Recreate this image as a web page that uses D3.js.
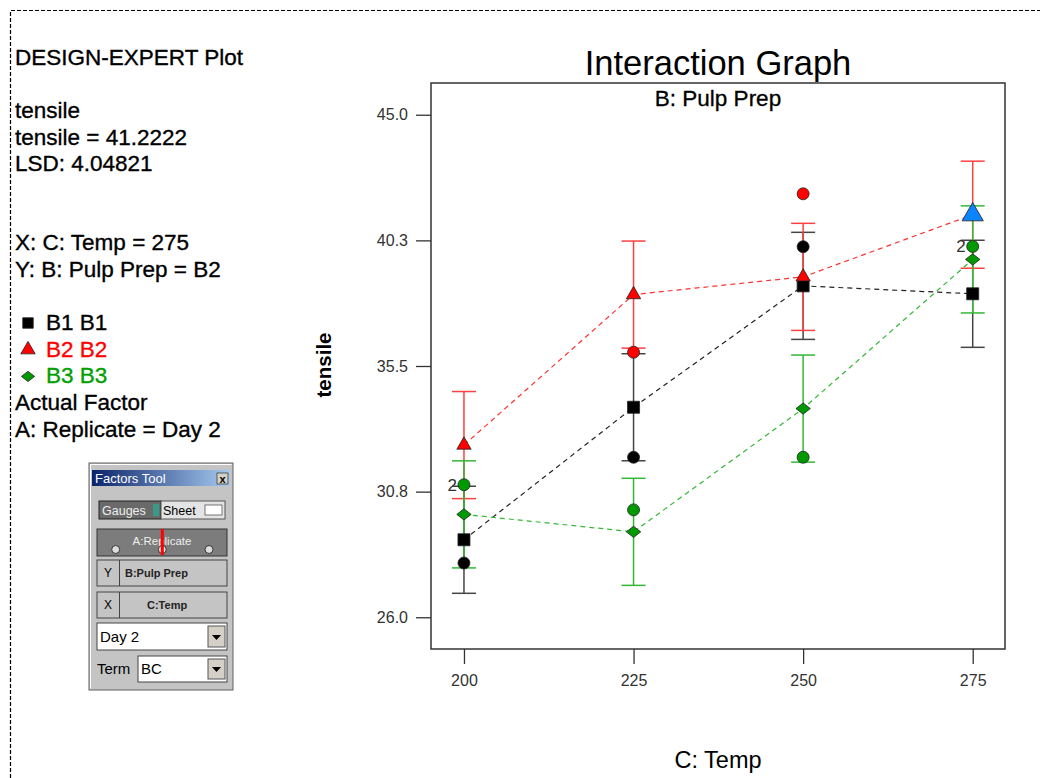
<!DOCTYPE html>
<html>
<head>
<meta charset="utf-8">
<script src="https://cdn.jsdelivr.net/npm/d3@7"></script>
<style>
	body { margin: 0; background: #fff; }
	svg text { font-family: "Liberation Sans", Arial, sans-serif; }
</style>
</head>
<body>
<div id="chart"></div>
<script>

	///////////////////////////////////////////////////////////////////////////
	//////////////////////////////// Data /////////////////////////////////////
	///////////////////////////////////////////////////////////////////////////

	var temps = [200, 225, 250, 275];
	var seriesNames = ["B1", "B2", "B3"];
	var b1Means = [28.93, 33.94, 38.53, 38.23];
	var b2Means = [32.51, 38.20, 38.87, 41.22];
	var b3Means = [29.89, 29.23, 33.89, 39.53];
	var lsd = 4.04821;

	//Actual design points (temp, tensile, count)
	var b1Obs = [[200, 28.05, 1], [225, 32.05, 1], [250, 40.01, 1]];
	var b2Obs = [[225, 36.02, 1], [250, 42.01, 1]];
	var b3Obs = [[200, 31.01, 2], [225, 30.06, 1], [250, 32.05, 1], [275, 40.02, 2]];

	var yTicks = [26.0, 30.75, 35.5, 40.25, 45.0];
	var yTickLabels = ["26.0", "30.8", "35.5", "40.3", "45.0"];

	var infoLines = [
		["DESIGN-EXPERT Plot", 65],
		["tensile", 118],
		["tensile = 41.2222", 145],
		["LSD: 4.04821", 171],
		["X: C: Temp = 275", 250],
		["Y: B: Pulp Prep = B2", 277],
		["Actual Factor", 410],
		["A: Replicate = Day 2", 437]
	];

	///////////////////////////////////////////////////////////////////////////
	//////////////////// Set up and initiate svg containers ///////////////////
	///////////////////////////////////////////////////////////////////////////

	var W = 1040, H = 778;
	var svg = d3.select("#chart").append("svg")
		.attr("width", W)
		.attr("height", H);

	var margin = { top: 83, left: 431 };
	var width = 574, height = 566;

	var x = d3.scaleLinear().domain([195.14, 279.76]).range([0, width]);
	var y = d3.scaleLinear().domain([24.8, 46.2]).range([height, 0]);

	//Dashed outer border
	svg.append("path")
		.attr("d", "M10.5," + H + "V10.5H" + W)
		.style("fill", "none")
		.style("stroke", "#000")
		.style("stroke-width", 1.2)
		.style("stroke-dasharray", "4,2");

	//Diamond wider than tall
	var wideDiamond = {
		draw: function(ctx, size) {
			var w = Math.sqrt(size) * 0.6, h = Math.sqrt(size) * 0.47;
			ctx.moveTo(-w, 0); ctx.lineTo(0, -h); ctx.lineTo(w, 0); ctx.lineTo(0, h); ctx.closePath();
		}
	};

	var series = [
		{ name: "B1", means: b1Means, obs: b1Obs, color: "#000", bar: "#444", line: "#222", sym: d3.symbolSquare, size: 144 },
		{ name: "B2", means: b2Means, obs: b2Obs, color: "#ff0000", bar: "#ff4040", line: "#ff3030", sym: d3.symbolTriangle, size: 88 },
		{ name: "B3", means: b3Means, obs: b3Obs, color: "#009900", bar: "#33b833", line: "#33b833", sym: wideDiamond, size: 144 }
	];

	///////////////////////////////////////////////////////////////////////////
	/////////////////////////////// Left panel ////////////////////////////////
	///////////////////////////////////////////////////////////////////////////

	svg.selectAll(".info")
		.data(infoLines)
		.enter().append("text")
		.attr("class", "info")
		.attr("x", 15)
		.attr("y", function(d) { return d[1]; })
		.style("font-size", "22.5px")
		.style("fill", "#000")
		.style("stroke", "#000")
		.style("stroke-width", 0.35)
		.text(function(d) { return d[0]; });

	var legend = svg.selectAll(".legendRow")
		.data(series)
		.enter().append("g")
		.attr("class", "legendRow")
		.attr("transform", function(d, i) { return "translate(0," + (330 + i * 26.7) + ")"; });

	legend.append("path")
		.attr("transform", "translate(28,-7)")
		.attr("d", function(d) { return d3.symbol().type(d.sym).size(d.name === "B1" ? 110 : d.name === "B2" ? 90 : 120)(); })
		.style("fill", function(d) { return d.color; })
		.style("stroke", "#222")
		.style("stroke-width", 0.8);

	legend.append("text")
		.attr("x", 46)
		.style("font-size", "22.5px")
		.style("fill", function(d) { return d.color === "#009900" ? "#00a000" : d.color; })
		.style("stroke", function(d) { return d.color === "#009900" ? "#00a000" : d.color; })
		.style("stroke-width", 0.35)
		.text(function(d) { return d.name + " " + d.name; });

	///////////////////////////////////////////////////////////////////////////
	////////////////////////////// Factors tool ///////////////////////////////
	///////////////////////////////////////////////////////////////////////////

	var ft = svg.append("g").attr("transform", "translate(89,463)");
	var defs = svg.append("defs");
	var grad = defs.append("linearGradient").attr("id", "titleGrad");
	grad.append("stop").attr("offset", "0%").attr("stop-color", "#0a246a");
	grad.append("stop").attr("offset", "100%").attr("stop-color", "#a6caf0");

	ft.append("rect").attr("width", 144).attr("height", 227).style("fill", "#c4c4c4").style("stroke", "#606060");
	ft.append("path").attr("d", "M1.5,225.5V1.5H142.5").style("fill", "none").style("stroke", "#fff");
	ft.append("rect").attr("x", 3).attr("y", 7).attr("width", 138).attr("height", 16).style("fill", "url(#titleGrad)");
	ft.append("text").attr("x", 6).attr("y", 20).style("font-size", "13px").style("fill", "#fff").text("Factors Tool");
	ft.append("rect").attr("x", 128).attr("y", 10).attr("width", 11).attr("height", 11).style("fill", "#d4d0c8").style("stroke", "#404040").style("stroke-width", 0.8);
	ft.append("text").attr("x", 133.5).attr("y", 19.5).attr("text-anchor", "middle").style("font-size", "11px").style("font-weight", "bold").text("x");

	//Gauges / Sheet buttons
	ft.append("rect").attr("x", 10).attr("y", 38).attr("width", 62).attr("height", 18).style("fill", "#6a6a6a").style("stroke", "#222");
	ft.append("text").attr("x", 13).attr("y", 52).style("font-size", "12.5px").style("fill", "#eee").text("Gauges");
	ft.append("rect").attr("x", 64).attr("y", 41).attr("width", 6).attr("height", 12).style("fill", "#3a9a8a");
	ft.append("rect").attr("x", 72).attr("y", 38).attr("width", 64).attr("height", 18).style("fill", "#e4e4e4").style("stroke", "#555");
	ft.append("text").attr("x", 74).attr("y", 52).style("font-size", "12.5px").style("fill", "#000").text("Sheet");
	ft.append("rect").attr("x", 116).attr("y", 42).attr("width", 17).attr("height", 10).style("fill", "#fff").style("stroke", "#555").style("stroke-width", 0.8);

	//Replicate gauge
	ft.append("rect").attr("x", 8).attr("y", 66).attr("width", 130).attr("height", 27).style("fill", "#7c7c7c").style("stroke", "#333");
	ft.append("text").attr("x", 73).attr("y", 82).attr("text-anchor", "middle").style("font-size", "11.5px").style("fill", "#eee").text("A:Replicate");
	ft.selectAll(".gaugeDot")
		.data([26.7, 73.3, 120])
		.enter().append("circle")
		.attr("class", "gaugeDot")
		.attr("cx", function(d) { return d; })
		.attr("cy", 86.5)
		.attr("r", 4)
		.style("fill", "#ddd")
		.style("stroke", "#333");
	ft.append("rect").attr("x", 71.8).attr("y", 66).attr("width", 3).attr("height", 26).style("fill", "#ff0000");

	//Y / X rows
	var rows = [["Y", "B:Pulp Prep", 97, 36], ["X", "C:Temp", 129, 58]];
	rows.forEach(function(r) {
		ft.append("rect").attr("x", 8).attr("y", r[2]).attr("width", 130).attr("height", 26).style("fill", "#c4c4c4").style("stroke", "#444");
		ft.append("line").attr("x1", 30.5).attr("x2", 30.5).attr("y1", r[2]).attr("y2", r[2] + 26).style("stroke", "#444");
		ft.append("text").attr("x", 19).attr("y", r[2] + 17).attr("text-anchor", "middle").style("font-size", "12px").text(r[0]);
		ft.append("text").attr("x", r[3]).attr("y", r[2] + 17).style("font-size", "11px").style("font-weight", "bold").style("fill", "#222").text(r[1]);
	});

	//Dropdowns
	ft.append("rect").attr("x", 8).attr("y", 160).attr("width", 130).attr("height", 27).style("fill", "#fff").style("stroke", "#444");
	ft.append("text").attr("x", 11).attr("y", 179).style("font-size", "15px").text("Day 2");
	ft.append("rect").attr("x", 119).attr("y", 163).attr("width", 17).attr("height", 21).style("fill", "#d4d0c8").style("stroke", "#555");
	ft.append("path").attr("d", "M123,172h9l-4.5,5z").style("fill", "#000");
	ft.append("text").attr("x", 8).attr("y", 211).style("font-size", "15px").text("Term");
	ft.append("rect").attr("x", 49).attr("y", 193).attr("width", 89).attr("height", 26).style("fill", "#fff").style("stroke", "#444");
	ft.append("text").attr("x", 52).attr("y", 211).style("font-size", "15px").text("BC");
	ft.append("rect").attr("x", 119).attr("y", 196).attr("width", 17).attr("height", 20).style("fill", "#d4d0c8").style("stroke", "#555");
	ft.append("path").attr("d", "M123,204h9l-4.5,5z").style("fill", "#000");

	///////////////////////////////////////////////////////////////////////////
	//////////////////////////////// Plot /////////////////////////////////////
	///////////////////////////////////////////////////////////////////////////

	var g = svg.append("g").attr("transform", "translate(" + margin.left + "," + margin.top + ")");

	g.append("rect")
		.attr("width", width)
		.attr("height", height)
		.style("fill", "none")
		.style("stroke", "#333")
		.style("stroke-width", 1.5);

	var yAxis = g.append("g")
		.call(d3.axisLeft(y).tickValues(yTicks).tickFormat(function(d, i) { return yTickLabels[i]; })
			.tickSize(15).tickSizeOuter(0).tickPadding(8));
	var xAxis = g.append("g")
		.attr("transform", "translate(0," + height + ")")
		.call(d3.axisBottom(x).tickValues(temps).tickFormat(d3.format("d"))
			.tickSize(15).tickSizeOuter(0).tickPadding(11));
	[yAxis, xAxis].forEach(function(ax) {
		ax.select(".domain").remove();
		ax.selectAll("line").style("stroke", "#333").style("stroke-width", 1.3);
		ax.selectAll("text").style("font-size", "16px").style("fill", "#333")
			.style("font-family", "'Liberation Sans Narrow', 'Liberation Sans', Arial, sans-serif");
	});

	//Titles
	svg.append("text")
		.attr("x", margin.left + width / 2)
		.attr("y", 75)
		.attr("text-anchor", "middle")
		.style("font-size", "34.5px")
		.text("Interaction Graph");
	svg.append("text")
		.attr("x", margin.left + width / 2)
		.attr("y", 106)
		.attr("text-anchor", "middle")
		.style("font-size", "22.5px")
		.style("stroke", "#000")
		.style("stroke-width", 0.3)
		.text("B: Pulp Prep");
	svg.append("text")
		.attr("transform", "translate(331,365) rotate(-90)")
		.attr("text-anchor", "middle")
		.style("font-size", "20.5px")
		.style("font-weight", "bold")
		.text("tensile");
	svg.append("text")
		.attr("x", margin.left + width / 2)
		.attr("y", 768)
		.attr("text-anchor", "middle")
		.style("font-size", "23.5px")
		.text("C: Temp");

	//Dashed lines through the means
	var line = d3.line()
		.x(function(d, i) { return x(temps[i]); })
		.y(function(d) { return y(d); });

	g.selectAll(".meanLine")
		.data(series)
		.enter().append("path")
		.attr("class", "meanLine")
		.attr("d", function(d) { return line(d.means); })
		.style("fill", "none")
		.style("stroke", function(d) { return d.line; })
		.style("stroke-width", 1.2)
		.style("stroke-dasharray", "5,4");

	//LSD error bars
	var half = lsd / 2, cap = 12;
	series.forEach(function(s) {
		var bars = g.selectAll(".bar-" + s.name)
			.data(s.means)
			.enter().append("g")
			.attr("class", "bar-" + s.name)
			.attr("transform", function(d, i) { return "translate(" + x(temps[i]) + ",0)"; })
			.style("stroke", s.bar)
			.style("stroke-width", 1.5);
		bars.append("line")
			.attr("y1", function(d) { return y(d + half); })
			.attr("y2", function(d) { return y(d - half); });
		bars.append("line")
			.attr("x1", -cap).attr("x2", cap)
			.attr("y1", function(d) { return y(d + half); })
			.attr("y2", function(d) { return y(d + half); });
		bars.append("line")
			.attr("x1", -cap).attr("x2", cap)
			.attr("y1", function(d) { return y(d - half); })
			.attr("y2", function(d) { return y(d - half); });
	});

	//Actual design points
	series.forEach(function(s) {
		g.selectAll(".obs-" + s.name)
			.data(s.obs)
			.enter().append("circle")
			.attr("class", "obs-" + s.name)
			.attr("cx", function(d) { return x(d[0]); })
			.attr("cy", function(d) { return y(d[1]); })
			.attr("r", 6)
			.style("fill", s.color)
			.style("stroke", "#222")
			.style("stroke-width", 0.8);
		g.selectAll(".cnt-" + s.name)
			.data(s.obs.filter(function(d) { return d[2] > 1; }))
			.enter().append("text")
			.attr("class", "cnt-" + s.name)
			.attr("x", function(d) { return x(d[0]) - 7; })
			.attr("y", function(d) { return y(d[1]) + 6; })
			.attr("text-anchor", "end")
			.style("font-size", "17px")
			.style("fill", "#333")
			.text(function(d) { return d[2]; });
	});

	//Predicted means
	series.forEach(function(s) {
		g.selectAll(".mean-" + s.name)
			.data(s.means)
			.enter().append("path")
			.attr("class", "mean-" + s.name)
			.attr("transform", function(d, i) { return "translate(" + x(temps[i]) + "," + y(d) + ")"; })
			.attr("d", function(d, i) {
				var big = s.name === "B2" && temps[i] === 275;
				return d3.symbol().type(s.sym).size(big ? 195 : s.size)();
			})
			.style("fill", function(d, i) { return s.name === "B2" && temps[i] === 275 ? "#0a84ff" : s.color; })
			.style("stroke", "#222")
			.style("stroke-width", 0.8);
	});

</script>
</body>
</html>
